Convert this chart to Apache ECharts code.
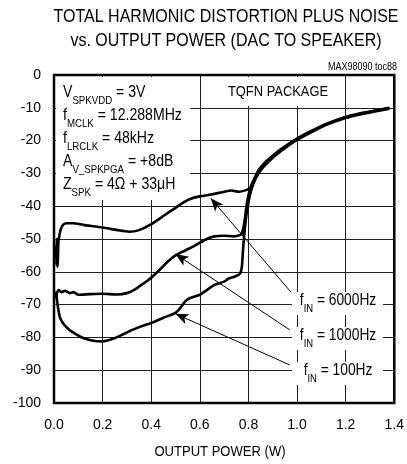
<!DOCTYPE html>
<html>
<head>
<meta charset="utf-8">
<script src="https://cdn.jsdelivr.net/npm/echarts@6/dist/echarts.min.js"></script>
<style>html,body{margin:0;padding:0;background:#fff}#c{width:407px;height:464px}</style>
</head>
<body>
<div id="c"></div>
<script>
const xTicks = [0.0, 0.2, 0.4, 0.6, 0.8, 1.0, 1.2, 1.4];
const yTicks = [0, -10, -20, -30, -40, -50, -60, -70, -80, -90, -100];

const f6000 = [[0.008,-52],[0.010,-58],[0.012,-50],[0.015,-58.5],[0.018,-51],[0.022,-49],[0.028,-47],[0.038,-45.6],[0.052,-45.2],[0.079,-45.2],[0.12,-45.7],[0.2,-46.5],[0.26,-47.3],[0.31,-47.8],[0.35,-47.3],[0.4,-45.5],[0.45,-43],[0.5,-40.5],[0.53,-39],[0.56,-37.8],[0.6,-37],[0.65,-36.4],[0.7,-35.6],[0.73,-35.2],[0.76,-35.6],[0.79,-35.1],[0.807,-34.5],[0.82,-32.3],[0.84,-29.2],[0.87,-26.5],[0.9,-24.6],[0.94,-22.3],[1.0,-19.4],[1.06,-17],[1.12,-14.9],[1.2,-12.8],[1.26,-11.7],[1.32,-10.8],[1.38,-10.0]];

const f1000 = [[0.008,-68],[0.012,-66.5],[0.02,-65.6],[0.03,-66.2],[0.045,-65.8],[0.065,-66.5],[0.08,-66.2],[0.1,-67],[0.15,-66.8],[0.2,-66.7],[0.26,-66.9],[0.3,-66.5],[0.33,-65.5],[0.36,-64],[0.4,-61.8],[0.44,-59],[0.47,-56.8],[0.5,-55],[0.54,-53.5],[0.58,-52],[0.62,-50.3],[0.66,-49.2],[0.7,-49],[0.74,-49.2],[0.77,-48.6],[0.778,-47],[0.785,-44],[0.795,-38.5],[0.81,-34],[0.83,-31],[0.86,-27.8],[0.9,-24.8],[0.95,-22],[1.0,-19.5],[1.06,-17.2],[1.12,-15],[1.2,-12.9],[1.26,-11.8],[1.32,-10.9],[1.38,-10.1]];

const f100 = [[0.008,-66],[0.012,-68.5],[0.018,-71.5],[0.025,-74],[0.04,-76],[0.065,-77.8],[0.09,-79],[0.12,-80.2],[0.16,-81],[0.2,-81.2],[0.24,-80.5],[0.28,-79.2],[0.32,-77.8],[0.36,-76.6],[0.4,-75.6],[0.45,-74],[0.5,-72.5],[0.52,-71],[0.54,-69],[0.56,-68],[0.6,-67],[0.63,-65.5],[0.66,-64],[0.7,-63],[0.72,-62],[0.75,-61.3],[0.766,-60.5],[0.773,-58.4],[0.778,-53],[0.785,-47],[0.795,-41],[0.81,-35.5],[0.83,-31.5],[0.86,-28.2],[0.9,-25.2],[0.95,-22.3],[1.0,-19.8],[1.06,-17.4],[1.12,-15.2],[1.2,-13.1],[1.26,-12],[1.32,-11.1],[1.38,-10.3]];

// annotation arrows: [label end, arrow tip] in data coordinates
const arrow6000 = [[0.975,-66.2],[0.645,-37.6]];
const arrow1000 = [[0.97,-77.7],[0.5,-54.6]];
const arrow100 = [[0.97,-88.4],[0.5,-72.8]];

const FR = "'Liberation Sans',Arial,sans-serif";

const chart = echarts.init(document.getElementById('c'), null, {renderer:'canvas'});

function curve(name, data, arrow) {
  return {
    name, type:'line', data, showSymbol:false, smooth:0.2,
    lineStyle:{color:'#000', width:2.6},
    z:3,
    markLine:{
      silent:true, symbol:['none','arrow'], symbolSize:[8,13],
      lineStyle:{color:'#000', width:1, type:'solid'},
      label:{show:false},
      data:[[{coord:arrow[0]},{coord:arrow[1]}]]
    }
  };
}

const rich = {
  m:{fontFamily:FR, fontSize:16, color:'#000', lineHeight:20, verticalAlign:'top'},
  s:{fontFamily:FR, fontSize:11, color:'#000', lineHeight:12, padding:[10,0,0,0], verticalAlign:'top'}
};

function narrowText(x, y, style, sx) {
  return {type:'text', z:5, x, y, scaleX:sx, style:Object.assign({x:0, y:0, fill:'#000'}, style)};
}

const infoLines = [
  [['m','V'],['s','SPKVDD'],['m',' = 3V']],
  [['m','f'],['s','MCLK'],['m',' = 12.288MHz']],
  [['m','f'],['s','LRCLK'],['m',' = 48kHz']],
  [['m','A'],['s','V_SPKPGA'],['m',' = +8dB']],
  [['m','Z'],['s','SPK'],['m',' = 4Ω + 33μH']]
];

const graphics = [
  narrowText(226, 5, {text:'TOTAL HARMONIC DISTORTION PLUS NOISE\nvs. OUTPUT POWER (DAC TO SPEAKER)', textAlign:'center', fontFamily:FR, fontSize:18, lineHeight:24}, 0.89),
  narrowText(397, 62, {text:'MAX98090 toc88', textAlign:'right', fontFamily:FR, fontSize:10}, 0.9),
  narrowText(220, 452, {text:'OUTPUT POWER (W)', textAlign:'center', textVerticalAlign:'middle', fontFamily:FR, fontSize:15}, 0.87),
  {type:'rect', z:1, shape:{x:56, y:77, width:134, height:123}, style:{fill:'#fff'}},
  {type:'rect', z:1, shape:{x:221, y:77, width:114, height:29}, style:{fill:'#fff'}},
  narrowText(278, 92, {text:'TQFN PACKAGE', textAlign:'center', textVerticalAlign:'middle', fontFamily:FR, fontSize:15}, 0.86)
];
infoLines.forEach((ln, i) => graphics.push(narrowText(63, 85 + i*23, {text:ln.map(p => '{' + p[0] + '|' + p[1] + '}').join(''), rich}, 0.88)));

const fLabels = [['6000Hz', 292], ['1000Hz', 327], ['100Hz', 362]];
fLabels.forEach(([hz, y]) => {
  graphics.push({type:'rect', z:1, shape:{x:292, y:y, width:91, height:23}, style:{fill:'#fff'}});
  graphics.push(narrowText(338, y + 1, {text:'{m|f}{s|IN}{m| = ' + hz + '}', textAlign:'center', rich}, 0.86));
});

chart.setOption({
  backgroundColor:'#fff',
  animation:false,
  grid:{left:54, top:75, right:10, bottom:61, show:true, borderColor:'#000', borderWidth:2.5, backgroundColor:'transparent', z:4},
  xAxis:{
    type:'value', min:0, max:1.4, interval:0.2,
    axisLine:{show:false}, axisTick:{show:false},
    axisLabel:{margin:15, fontFamily:FR, fontSize:14, color:'#000', formatter:v => v.toFixed(1)},
    splitLine:{show:true, lineStyle:{color:'#222', width:1}}
  },
  yAxis:{
    type:'value', min:-100, max:0, interval:10,
    axisLine:{show:false}, axisTick:{show:false},
    axisLabel:{margin:13, fontFamily:FR, fontSize:14, color:'#000'},
    splitLine:{show:true, lineStyle:{color:'#222', width:1}}
  },
  series:[curve('6000Hz', f6000, arrow6000), curve('1000Hz', f1000, arrow1000), curve('100Hz', f100, arrow100)],
  graphic:graphics
});
</script>
</body>
</html>
